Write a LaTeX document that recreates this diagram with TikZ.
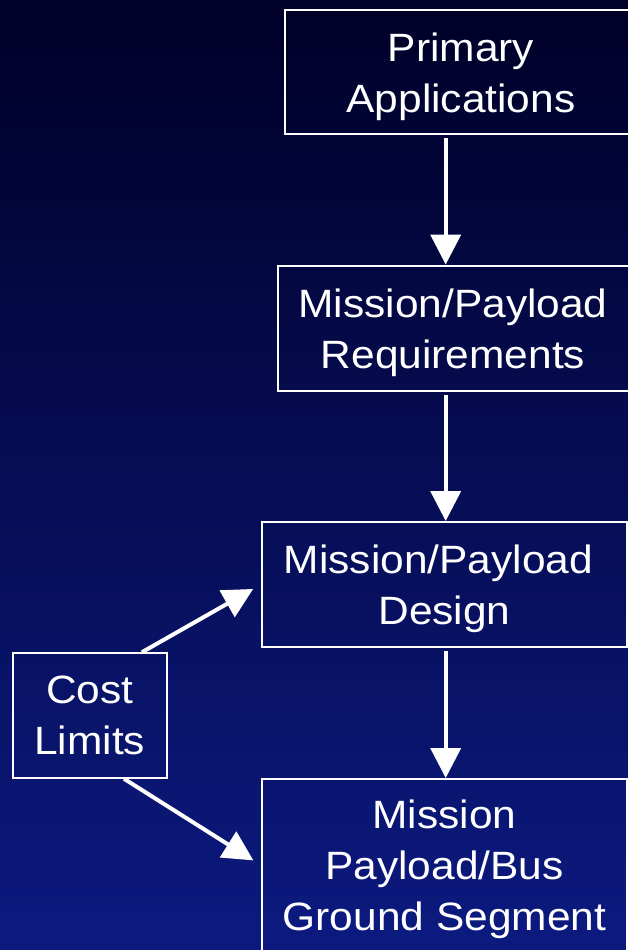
\documentclass[tikz,border=0pt]{standalone}
\usepackage{fontspec}
\setmainfont{Liberation Sans}[FakeStretch=1.075]
\usetikzlibrary{arrows.meta,calc}
\definecolor{bgtop}{RGB}{0,0,40}
\definecolor{bgmid}{RGB}{4,12,98}
\definecolor{bgbot}{RGB}{12,26,128}
\newcommand\nodp[1]{\raisebox{0pt}[\height][0pt]{#1}}
\begin{document}
\begin{tikzpicture}[x=1pt,y=-1pt,
  box/.style={draw=white, line width=2pt, text=white, align=center,
    font=\fontsize{39.5}{51}\selectfont, inner sep=0pt},
  flow/.style={draw=white, line width=4pt, -{Triangle[width=30pt,length=30pt]}}]
\useasboundingbox (0,0) rectangle (628,950);
\clip (0,0) rectangle (628,950);
\shade[top color=bgtop, middle color=bgmid, bottom color=bgbot] (0,0) rectangle (628,950);
\coordinate (ax) at (445.7,0);
\node[box, minimum width=352, minimum height=124.5] (pa) at (461,72.2) {Primary\\\nodp{Applications}};
\node[box, minimum width=351, minimum height=125.5] (pr) at (453,328.3) {Mission/Payload\\\nodp{Requirements}};
\node[box, minimum width=365, minimum height=125] (md) at (444.5,584.5) {Mission/Payload\hspace*{12pt}\\\nodp{Design}};
\node[box, minimum width=365, minimum height=172.4] (mp) at (444.5,865.2) {Mission\\Payload/Bus\\\nodp{Ground Segment}};
\node[box, minimum width=153.6, minimum height=124.5] (cl) at (89.8,715.5) {Cost\\\nodp{Limits}};
\draw[flow, shorten <=3pt] (pa.south -| ax) -- (pr.north -| ax);
\draw[flow, shorten <=3pt] (pr.south -| ax) -- (md.north -| ax);
\draw[flow, shorten <=3pt] (md.south -| ax) -- (mp.north -| ax);
\draw[flow, shorten >=9pt] ($(cl.north west)!0.835!(cl.north east)$) -- (md.west);
\draw[flow, shorten >=9pt] ($(cl.south west)!0.72!(cl.south east)$) -- (mp.west);
\end{tikzpicture}
\end{document}
